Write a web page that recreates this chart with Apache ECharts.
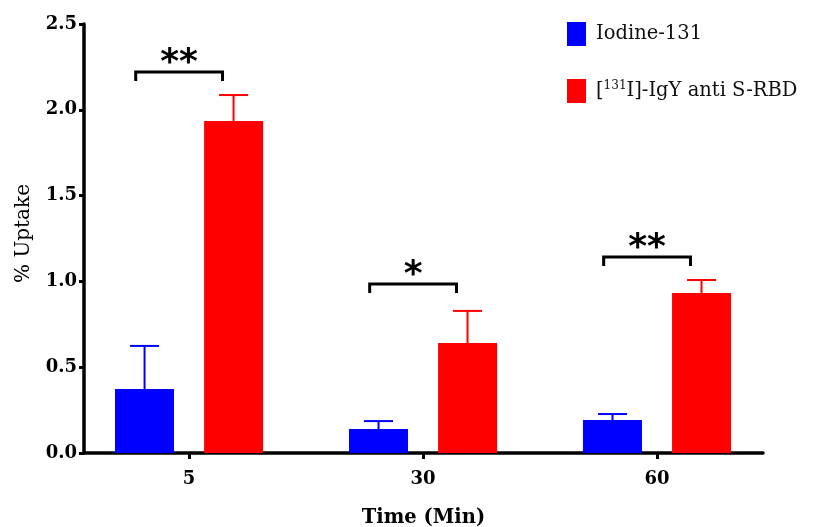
<!DOCTYPE html>
<html><head><meta charset="utf-8">
<script src="https://cdn.jsdelivr.net/npm/echarts@6/dist/echarts.min.js"></script>
<style>html,body{margin:0;padding:0;background:#fff}#c{width:813px;height:527px}</style>
</head><body><div id="c"></div>
<script>
const categories = ['5', '30', '60'];
const seriesNames = ['Iodine-131', '[131I]-IgY anti S-RBD'];
const iodineMean = [0.373, 0.140, 0.192];
const iodineSD = [0.251, 0.046, 0.035];
const igyMean = [1.935, 0.641, 0.932];
const igySD = [0.151, 0.187, 0.076];
const sigLabels = ['**', '*', '**'];
const sigLevel = [2.22, 0.985, 1.142];
const yTickLabels = ['0.0', '0.5', '1.0', '1.5', '2.0', '2.5'];

const FONT = 'DejaVu Serif';
const BLUE = '#0000ff', RED = '#ff0000';
const BAR_W = 59, BAR_SHIFT = 44.5, CAP = 14.5;

function errSeries(name, mean, sd, color, shift) {
  return {
    type: 'custom', name: name + ' SD', silent: true, z: 3,
    data: categories.map((c, i) => [i, mean[i], mean[i] + sd[i]]),
    renderItem(params, api) {
      const p0 = api.coord([api.value(0), api.value(1)]);
      const p1 = api.coord([api.value(0), api.value(2)]);
      const x = p0[0] + shift;
      return { type: 'group', children: [
        { type: 'line', shape: { x1: x, y1: p0[1], x2: x, y2: p1[1] }, style: { stroke: color, lineWidth: 2 } },
        { type: 'line', shape: { x1: x - CAP, y1: p1[1], x2: x + CAP, y2: p1[1] }, style: { stroke: color, lineWidth: 2 } }
      ] };
    }
  };
}

const chart = echarts.init(document.getElementById('c'), null, { renderer: 'canvas' });
chart.setOption({
  backgroundColor: '#fff',
  animation: false,
  grid: { left: 84, right: 50, top: 24, bottom: 74, outerBoundsMode: 'none', containLabel: false },
  legend: {
    data: seriesNames,
    orient: 'vertical', left: 567, top: 22, padding: 0,
    itemWidth: 19, itemHeight: 24, itemGap: 33,
    icon: 'rect',
    textStyle: {
      fontFamily: FONT, fontSize: 19.5, color: '#111', padding: [0, 0, 0, 5],
      rich: { sup: { fontFamily: FONT, fontSize: 12, verticalAlign: 'top', padding: [0, 0, 10, 0] } }
    },
    formatter: n => n === seriesNames[1] ? '[{sup|131}I]-IgY anti S-RBD' : n
  },
  xAxis: {
    type: 'value', min: -0.449, max: 2.453,
    name: 'Time (Min)', nameLocation: 'middle', nameGap: 55,
    nameTextStyle: { fontFamily: FONT, fontSize: 19.5, fontWeight: 'bold', color: '#000' },
    axisLine: { onZero: false, lineStyle: { color: '#000', width: 3.5 } },
    axisTick: { customValues: [0, 1, 2], length: 6, lineStyle: { color: '#000', width: 3 } },
    axisLabel: { customValues: [0, 1, 2], formatter: v => categories[Math.round(v)], margin: 17,
      fontFamily: FONT, fontSize: 18, fontWeight: 'bold', color: '#000' },
    splitLine: { show: false }
  },
  yAxis: {
    type: 'value', min: 0, max: 2.5, interval: 0.5,
    name: '% Uptake', nameLocation: 'middle', nameGap: 50,
    nameTextStyle: { fontFamily: FONT, fontSize: 20, color: '#000', padding: [0, 0, 0, 10] },
    axisLine: { show: true, onZero: false, lineStyle: { color: '#000', width: 3.5 } },
    axisTick: { show: true, length: 5, lineStyle: { color: '#000', width: 3 } },
    axisLabel: { formatter: (v) => yTickLabels[Math.round(v * 2)], margin: 7,
      fontFamily: FONT, fontSize: 18, fontWeight: 'bold', color: '#000' },
    splitLine: { show: false }
  },
  series: [
    { type: 'bar', name: seriesNames[0], barWidth: BAR_W, barGap: '51%', itemStyle: { color: BLUE },
      data: categories.map((c, i) => [i, iodineMean[i]]) },
    { type: 'bar', name: seriesNames[1], barWidth: BAR_W, barGap: '51%', itemStyle: { color: RED },
      data: categories.map((c, i) => [i, igyMean[i]]) },
    errSeries(seriesNames[0], iodineMean, iodineSD, BLUE, -BAR_SHIFT),
    errSeries(seriesNames[1], igyMean, igySD, RED, BAR_SHIFT),
    {
      type: 'custom', name: 'significance', silent: true, z: 4,
      data: categories.map((c, i) => [i, sigLevel[i]]),
      renderItem(params, api) {
        const i = params.dataIndex;
        const L = api.coord([api.value(0) - 0.228, api.value(1)]);
        const R = api.coord([api.value(0) + 0.143, api.value(1)]);
        return { type: 'group', children: [
          { type: 'polyline', shape: { points: [[L[0], L[1] + 9], [L[0], L[1]], [R[0], R[1]], [R[0], R[1] + 9]] },
            style: { stroke: '#000', lineWidth: 3, fill: null } },
          { type: 'text', style: { text: sigLabels[i], x: (L[0] + R[0]) / 2, y: L[1] - 8,
            align: 'center', verticalAlign: 'middle', font: 'bold 36px "DejaVu Sans"', fill: '#000' } }
        ] };
      }
    }
  ]
});
</script></body></html>
